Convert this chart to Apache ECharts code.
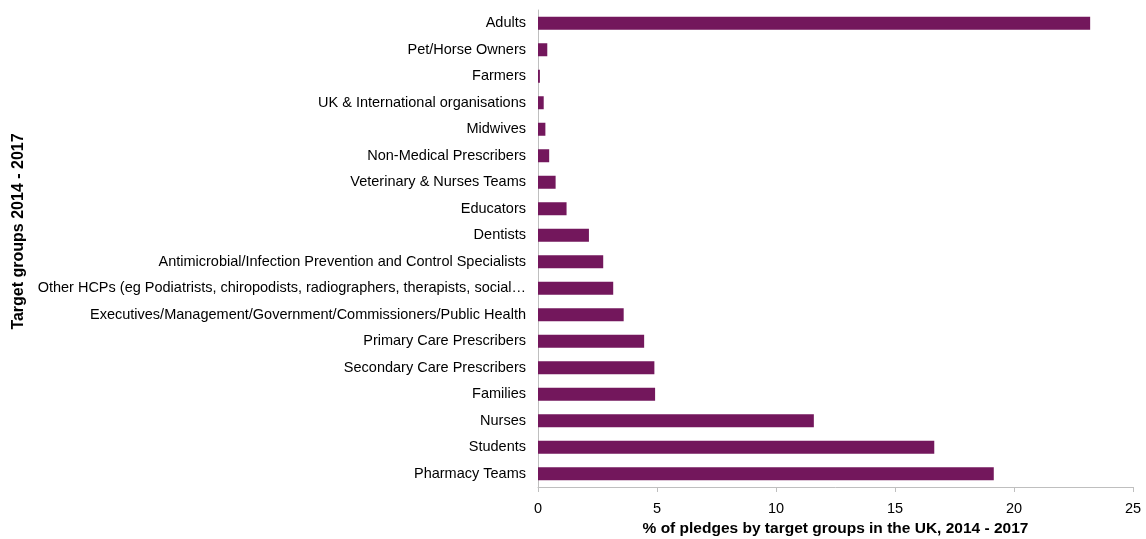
<!DOCTYPE html>
<html>
<head>
<meta charset="utf-8">
<script src="https://cdn.jsdelivr.net/npm/echarts@6/dist/echarts.min.js"></script>
<style>
  html, body { margin: 0; padding: 0; background: #fff; }
  #main { width: 1146px; height: 539px; }
</style>
</head>
<body>
<div id="main"></div>
<script>
// bottom to top, as in the picture
var groups = [
  'Pharmacy Teams',
  'Students',
  'Nurses',
  'Families',
  'Secondary Care Prescribers',
  'Primary Care Prescribers',
  'Executives/Management/Government/Commissioners/Public Health',
  'Other HCPs (eg Podiatrists, chiropodists, radiographers, therapists, social\u2026',
  'Antimicrobial/Infection Prevention and Control Specialists',
  'Dentists',
  'Educators',
  'Veterinary & Nurses Teams',
  'Non-Medical Prescribers',
  'Midwives',
  'UK & International organisations',
  'Farmers',
  'Pet/Horse Owners',
  'Adults'
];
var pledges = [19.15, 16.65, 11.59, 4.92, 4.89, 4.46, 3.6, 3.16, 2.74, 2.14, 1.2, 0.74, 0.47, 0.31, 0.24, 0.08, 0.39, 23.2];
var xTicks = [0, 5, 10, 15, 20, 25];

var myChart = echarts.init(document.getElementById('main'));
var option = {
  animation: false,
  textStyle: { fontFamily: 'Liberation Sans, Arial, sans-serif' },
  grid: { left: 538, right: 13, top: 10, bottom: 52, outerBoundsMode: 'none' },
  xAxis: {
    type: 'value',
    min: xTicks[0],
    max: xTicks[xTicks.length - 1],
    interval: 5,
    name: '% of pledges by target groups in the UK, 2014 - 2017',
    nameLocation: 'middle',
    nameGap: 34,
    nameTextStyle: { fontSize: 15.5, fontWeight: 'bold', color: '#000' },
    axisLine: { show: true, lineStyle: { color: '#bfbfbf' } },
    axisTick: { show: true, length: 5, lineStyle: { color: '#bfbfbf' } },
    axisLabel: { fontSize: 14.5, color: '#000', margin: 14 },
    splitLine: { show: false }
  },
  yAxis: {
    type: 'category',
    data: groups,
    name: 'Target groups 2014 - 2017',
    nameLocation: 'middle',
    nameRotate: 90,
    nameGap: 504,
    nameTextStyle: { fontSize: 16, fontWeight: 'bold', color: '#000', padding: [0, 0, 0, 34] },
    axisLine: { show: true, lineStyle: { color: '#bfbfbf' } },
    axisTick: { show: false },
    axisLabel: { fontSize: 14.5, color: '#000', margin: 12 }
  },
  series: [{
    type: 'bar',
    data: pledges,
    barWidth: 13,
    itemStyle: { color: '#73175c' }
  }]
};
myChart.setOption(option);
</script>
</body>
</html>
